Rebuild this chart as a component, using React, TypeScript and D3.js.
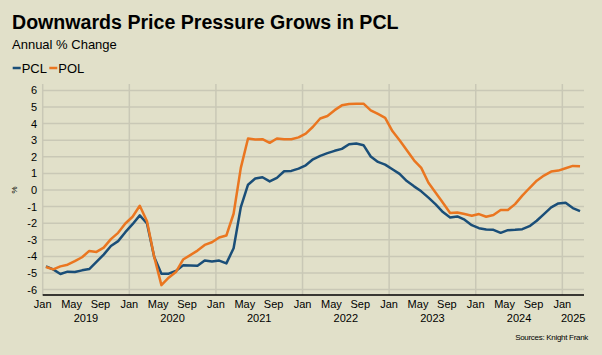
import React from "react";
import * as d3 from "d3";

const pcl = [-4.6,-4.78,-5.06,-4.92,-4.94,-4.84,-4.76,-4.33,-3.89,-3.37,-3.08,-2.54,-2.06,-1.53,-2.02,-4.03,-5.04,-5.04,-4.88,-4.54,-4.55,-4.56,-4.25,-4.31,-4.25,-4.42,-3.51,-1.03,0.32,0.69,0.77,0.52,0.73,1.13,1.15,1.29,1.49,1.85,2.06,2.22,2.36,2.48,2.76,2.8,2.7,2.02,1.69,1.53,1.25,0.97,0.54,0.22,-0.08,-0.46,-0.87,-1.33,-1.65,-1.59,-1.79,-2.12,-2.3,-2.38,-2.4,-2.58,-2.42,-2.4,-2.36,-2.18,-1.85,-1.45,-1.05,-0.81,-0.77,-1.09,-1.27];
const pol = [-4.64,-4.78,-4.6,-4.5,-4.29,-4.05,-3.67,-3.73,-3.47,-2.96,-2.58,-2.02,-1.61,-0.95,-1.88,-4.03,-5.73,-5.28,-4.94,-4.19,-3.92,-3.65,-3.31,-3.15,-2.86,-2.74,-1.43,1.33,3.1,3.04,3.06,2.84,3.1,3.06,3.06,3.17,3.4,3.81,4.31,4.46,4.81,5.1,5.18,5.2,5.2,4.8,4.58,4.35,3.55,3.0,2.4,1.79,1.33,0.44,-0.16,-0.77,-1.39,-1.35,-1.45,-1.55,-1.45,-1.61,-1.51,-1.21,-1.21,-0.85,-0.34,0.12,0.56,0.87,1.11,1.17,1.31,1.45,1.43];
const yTicks = [6,5,4,3,2,1,0,-1,-2,-3,-4,-5,-6];
const monthLabels = ["Jan","May","Sep"];
const years = ["2019","2020","2021","2022","2023","2024","2025"];
const seriesNames = ["PCL","POL"];
const colors = ["#1a4e78","#ea7620"];

const W = 602, H = 355;
const BG = "#e1e0c9";
const GRID = "#c9c8b6";
const FONT = "'Liberation Sans', Arial, sans-serif";

export default function App() {
  const x = d3.scaleLinear().domain([0, 75]).range([42.7, 584]);
  const y = d3.scaleLinear().domain([-6, 6]).range([289.6, 90.4]);
  const plotTop = 84, axisY = 295;
  const line = d3.line<number>().x((_, i) => x(i + 0.45)).y(d => y(d));

  const monthTicks: { m: number; label: string }[] = [];
  for (let m = 0; m <= 72; m += 4) monthTicks.push({ m, label: monthLabels[(m / 4) % 3] });
  const yearTicks = years.map((yr, k) => ({ yr, m: k < 6 ? 12 * k + 6 : (72 + 75) / 2 }));
  const janLines = d3.range(0, 73, 12);

  return (
    <svg width={W} height={H} style={{ position: "absolute", left: 0, top: 0, display: "block" }} fontFamily={FONT}>
      <rect x={0} y={0} width={W} height={H} fill={BG} />
      <text x={12} y={29} fontSize={19.6} fontWeight="bold" fill="#000">Downwards Price Pressure Grows in PCL</text>
      <text x={12} y={49.3} fontSize={13} fill="#000">Annual % Change</text>
      {seriesNames.map((s, i) => {
        const lx = 12.7 + i * 36.6;
        return (
          <g key={s}>
            <line x1={lx} x2={lx + 8} y1={68} y2={68} stroke={colors[i]} strokeWidth={2.5} />
            <text x={lx + 9} y={72.7} fontSize={13} fill="#000">{s}</text>
          </g>
        );
      })}
      {yTicks.map(t => (
        <g key={t}>
          <line x1={x(0)} x2={x(75)} y1={y(t)} y2={y(t)} stroke={GRID} strokeWidth={1.5} />
          <text x={37} y={y(t)} dy="0.36em" textAnchor="end" fontSize={11} fill="#000">{t}</text>
        </g>
      ))}
      {janLines.map(m => (
        <line key={m} x1={x(m)} x2={x(m)} y1={plotTop} y2={axisY} stroke={GRID} strokeWidth={1.5} />
      ))}
      <text transform={`translate(17,${y(0)}) rotate(-90)`} textAnchor="middle" fontSize={8} fill="#000">%</text>
      <line x1={x(0)} x2={x(75)} y1={axisY} y2={axisY} stroke="#000" strokeWidth={1.5} />
      {monthTicks.map(t => (
        <text key={t.m} x={x(t.m)} y={308} textAnchor="middle" fontSize={11} fill="#000">{t.label}</text>
      ))}
      {yearTicks.map(t => (
        <text key={t.yr} x={x(t.m)} y={322} textAnchor="middle" fontSize={11} fill="#000">{t.yr}</text>
      ))}
      {[pcl, pol].map((s, i) => (
        <path key={i} d={line(s) || ""} fill="none" stroke={colors[i]} strokeWidth={2.5} strokeLinejoin="round" />
      ))}
      <text x={588} y={339.5} textAnchor="end" fontSize={8} fill="#000" letterSpacing={-0.3}>Sources: Knight Frank</text>
    </svg>
  );
}
